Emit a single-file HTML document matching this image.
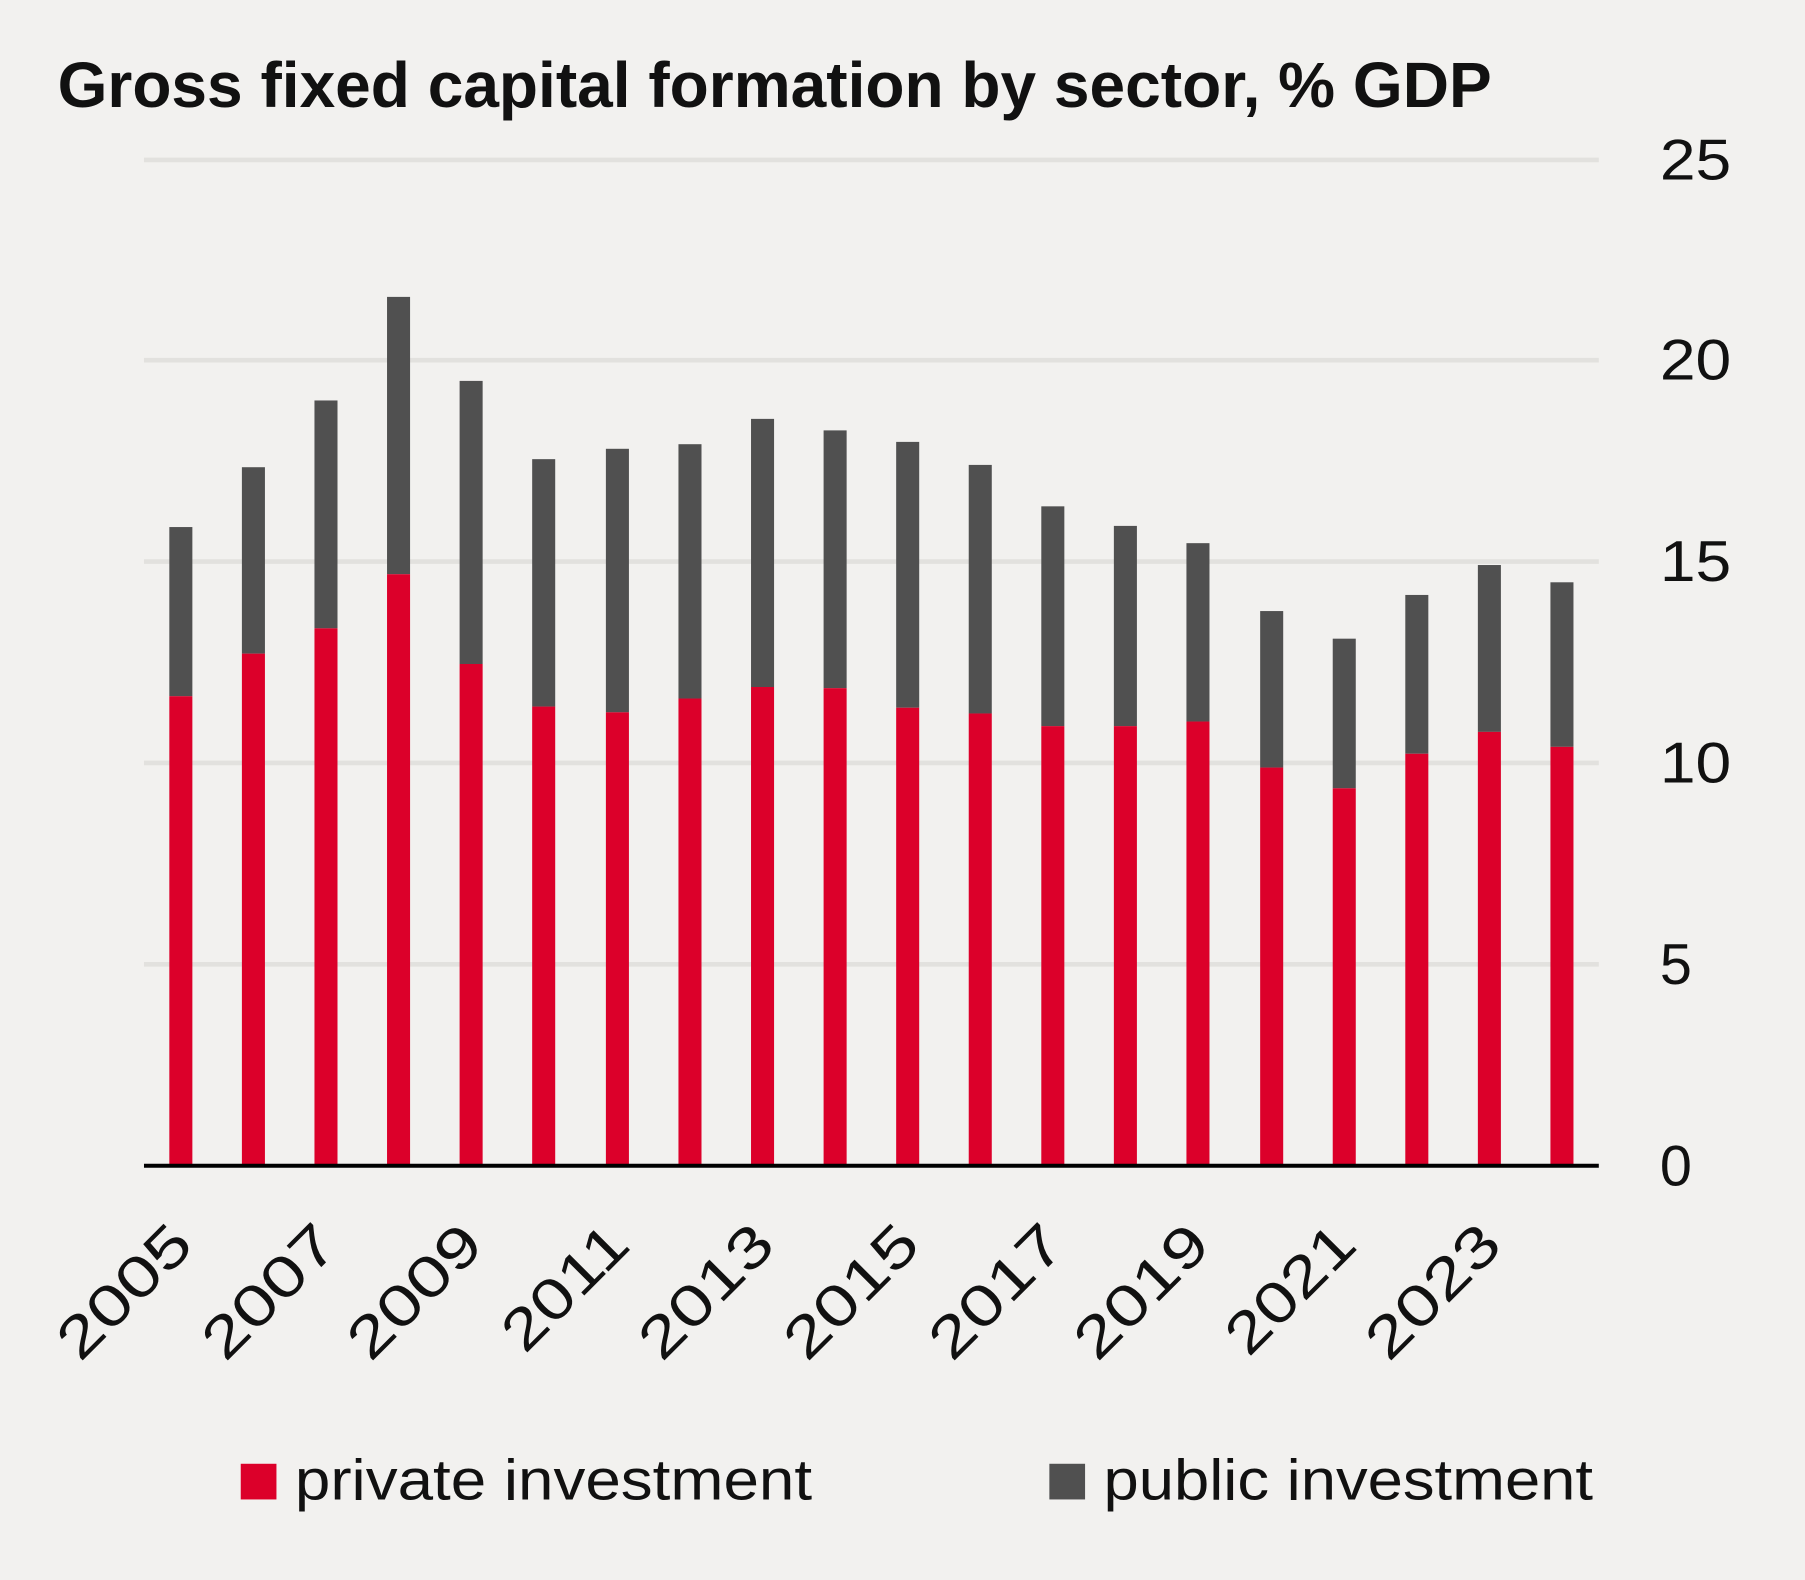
<!DOCTYPE html>
<html><head><meta charset="utf-8"><style>
html,body{margin:0;padding:0;background:#f2f1ef;}
svg{display:block;}
text{font-family:"Liberation Sans",sans-serif;fill:#111;}
</style></head><body>
<svg width="1805" height="1580" viewBox="0 0 1567 1373" preserveAspectRatio="none" xmlns="http://www.w3.org/2000/svg">
<rect width="1567" height="1373" fill="#f2f1ef"/>
<text x="50" y="93" font-weight="bold" font-size="56" textLength="1245" lengthAdjust="spacingAndGlyphs">Gross fixed capital formation by sector, % GDP</text>
<g stroke="#e2e1de" stroke-width="4">
<line x1="125" x2="1388" y1="139" y2="139"/>
<line x1="125" x2="1388" y1="313" y2="313"/>
<line x1="125" x2="1388" y1="488" y2="488"/>
<line x1="125" x2="1388" y1="663" y2="663"/>
<line x1="125" x2="1388" y1="838" y2="838"/>
</g>
<g font-size="50">
<text x="1441" y="156" textLength="62" lengthAdjust="spacingAndGlyphs">25</text>
<text x="1441" y="330" textLength="62" lengthAdjust="spacingAndGlyphs">20</text>
<text x="1441" y="505" textLength="62" lengthAdjust="spacingAndGlyphs">15</text>
<text x="1441" y="680" textLength="62" lengthAdjust="spacingAndGlyphs">10</text>
<text x="1441" y="855">5</text>
<text x="1441" y="1030">0</text>
</g>
<g fill="#505050">
<rect x="147" y="458" width="20" height="147"/>
<rect x="210" y="406" width="20" height="162"/>
<rect x="273" y="348" width="20" height="198"/>
<rect x="336" y="258" width="20" height="241"/>
<rect x="399" y="331" width="20" height="246"/>
<rect x="462" y="399" width="20" height="215"/>
<rect x="526" y="390" width="20" height="229"/>
<rect x="589" y="386" width="20" height="221"/>
<rect x="652" y="364" width="20" height="233"/>
<rect x="715" y="374" width="20" height="224"/>
<rect x="778" y="384" width="20" height="231"/>
<rect x="841" y="404" width="20" height="216"/>
<rect x="904" y="440" width="20" height="191"/>
<rect x="967" y="457" width="20" height="174"/>
<rect x="1030" y="472" width="20" height="155"/>
<rect x="1094" y="531" width="20" height="136"/>
<rect x="1157" y="555" width="20" height="130"/>
<rect x="1220" y="517" width="20" height="138"/>
<rect x="1283" y="491" width="20" height="145"/>
<rect x="1346" y="506" width="20" height="143"/>
</g>
<g fill="#dc002a">
<rect x="147" y="605" width="20" height="408"/>
<rect x="210" y="568" width="20" height="445"/>
<rect x="273" y="546" width="20" height="467"/>
<rect x="336" y="499" width="20" height="514"/>
<rect x="399" y="577" width="20" height="436"/>
<rect x="462" y="614" width="20" height="399"/>
<rect x="526" y="619" width="20" height="394"/>
<rect x="589" y="607" width="20" height="406"/>
<rect x="652" y="597" width="20" height="416"/>
<rect x="715" y="598" width="20" height="415"/>
<rect x="778" y="615" width="20" height="398"/>
<rect x="841" y="620" width="20" height="393"/>
<rect x="904" y="631" width="20" height="382"/>
<rect x="967" y="631" width="20" height="382"/>
<rect x="1030" y="627" width="20" height="386"/>
<rect x="1094" y="667" width="20" height="346"/>
<rect x="1157" y="685" width="20" height="328"/>
<rect x="1220" y="655" width="20" height="358"/>
<rect x="1283" y="636" width="20" height="377"/>
<rect x="1346" y="649" width="20" height="364"/>
</g>
<line x1="125" x2="1388" y1="1013" y2="1013" stroke="#000" stroke-width="3.5"/>
<g font-size="50" text-anchor="end">
<text transform="translate(170,1084) rotate(-45)" textLength="142" lengthAdjust="spacingAndGlyphs">2005</text>
<text transform="translate(296,1084) rotate(-45)" textLength="142" lengthAdjust="spacingAndGlyphs">2007</text>
<text transform="translate(422,1084) rotate(-45)" textLength="142" lengthAdjust="spacingAndGlyphs">2009</text>
<text transform="translate(549,1084) rotate(-45)" textLength="132" lengthAdjust="spacingAndGlyphs">2011</text>
<text transform="translate(675,1084) rotate(-45)" textLength="142" lengthAdjust="spacingAndGlyphs">2013</text>
<text transform="translate(801,1084) rotate(-45)" textLength="142" lengthAdjust="spacingAndGlyphs">2015</text>
<text transform="translate(927,1084) rotate(-45)" textLength="142" lengthAdjust="spacingAndGlyphs">2017</text>
<text transform="translate(1053,1084) rotate(-45)" textLength="142" lengthAdjust="spacingAndGlyphs">2019</text>
<text transform="translate(1180,1084) rotate(-45)" textLength="136" lengthAdjust="spacingAndGlyphs">2021</text>
<text transform="translate(1306,1084) rotate(-45)" textLength="142" lengthAdjust="spacingAndGlyphs">2023</text>
</g>
<rect x="209" y="1272" width="31" height="31" fill="#dc002a"/>
<text x="256" y="1303" font-size="50" textLength="449" lengthAdjust="spacingAndGlyphs">private investment</text>
<rect x="911" y="1272" width="31" height="31" fill="#505050"/>
<text x="958" y="1303" font-size="50" textLength="425" lengthAdjust="spacingAndGlyphs">public investment</text>
</svg>
</body></html>
